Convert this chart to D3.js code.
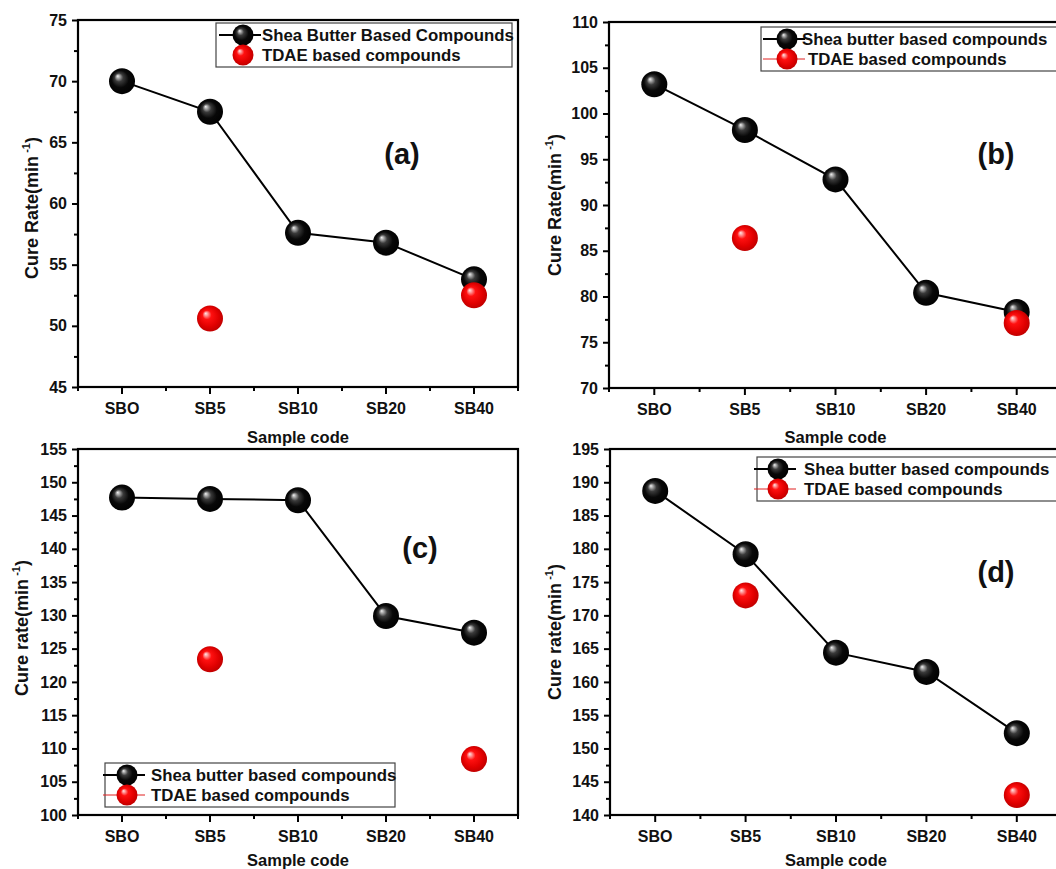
<!DOCTYPE html>
<html>
<head>
<meta charset="utf-8">
<script src="https://cdn.jsdelivr.net/npm/d3@7"></script>
<style>
  html, body { margin: 0; padding: 0; background: #fff; }
  svg { display: block; }
  text { font-family: "Liberation Sans", Arial, sans-serif; }
</style>
</head>
<body>
<svg id="chart" width="1056" height="869"></svg>
<script>
// Sample codes along the x axis
const categories = ["SBO", "SB5", "SB10", "SB20", "SB40"];

// Cure rate (min^-1) per panel; null = not measured
const sheaA = [70.0, 67.5, 57.6, 56.8, 53.8];
const tdaeA = [null, 50.6, null, null, 52.5];
const sheaB = [103.2, 98.2, 92.8, 80.4, 78.3];
const tdaeB = [null, 86.4, null, null, 77.1];
const sheaC = [147.7, 147.5, 147.3, 129.9, 127.4];
const tdaeC = [null, 123.4, null, null, 108.4];
const sheaD = [188.7, 179.2, 164.4, 161.5, 152.3];
const tdaeD = [null, 173.0, null, null, 143.0];

// Y axis ranges and tick values
const yDomainA = [45, 75],  yTicksA = [45, 50, 55, 60, 65, 70, 75];
const yDomainB = [70, 110], yTicksB = [70, 75, 80, 85, 90, 95, 100, 105, 110];
const yDomainC = [100, 155], yTicksC = [100, 105, 110, 115, 120, 125, 130, 135, 140, 145, 150, 155];
const yDomainD = [140, 195], yTicksD = [140, 145, 150, 155, 160, 165, 170, 175, 180, 185, 190, 195];

// Text
const panelLetters = ["(a)", "(b)", "(c)", "(d)"];
const yTitles = ["Cure Rate(min", "Cure Rate(min", "Cure rate(min", "Cure rate(min"];
const sheaNames = ["Shea Butter Based Compounds", "Shea butter based compounds",
                   "Shea butter based compounds", "Shea butter based compounds"];
const tdaeName = "TDAE based compounds";
const xTitle = "Sample code";

const FONT = "Liberation Sans, Arial, sans-serif";
const INK = "#111";

const svg = d3.select("#chart");
const defs = svg.append("defs");

function sphereGradient(id, stops) {
  const g = defs.append("radialGradient").attr("id", id)
    .attr("cx", "50%").attr("cy", "50%").attr("r", "55%")
    .attr("fx", "33%").attr("fy", "30%");
  stops.forEach(s => g.append("stop").attr("offset", s[0]).attr("stop-color", s[1]));
}
sphereGradient("ballBlack", [["0%", "#f2f2f2"], ["12%", "#a8a8a8"], ["30%", "#3a3a3a"], ["60%", "#080808"], ["100%", "#000"]]);
sphereGradient("ballRed", [["0%", "#ffe8e8"], ["12%", "#ff9a9a"], ["32%", "#ff1010"], ["70%", "#e00000"], ["100%", "#b80000"]]);

const R = 13;

const panels = [
  { shea: sheaA, tdae: tdaeA, dom: yDomainA, ticks: yTicksA, x0: 78, x1: 518, y0: 20, y1: 387,
    letter: [402, 164], yTitle: [38, 208], xTitleDy: 56,
    legend: { x: 216, y: 23, w: 296, h: 44, sym: 243, text: 262, tdaeLine: false } },
  { shea: sheaB, tdae: tdaeB, dom: yDomainB, ticks: yTicksB, x0: 609, x1: 1062, y0: 22, y1: 388,
    letter: [996, 164], yTitle: [561, 205], xTitleDy: 55,
    legend: { x: 761, y: 27, w: 320, h: 44, sym: 787, text: 802, tdaeLine: true, text2: 808 } },
  { shea: sheaC, tdae: tdaeC, dom: yDomainC, ticks: yTicksC, x0: 78, x1: 518, y0: 449, y1: 815,
    letter: [420, 558], yTitle: [28, 628], xTitleDy: 51,
    legend: { x: 105, y: 763, w: 290, h: 44, sym: 127, text: 151, tdaeLine: true } },
  { shea: sheaD, tdae: tdaeD, dom: yDomainD, ticks: yTicksD, x0: 610, x1: 1062, y0: 449, y1: 815,
    letter: [996, 582], yTitle: [561, 632], xTitleDy: 51,
    legend: { x: 757, y: 457, w: 320, h: 44, sym: 778, text: 804, tdaeLine: true } }
];

panels.forEach((p, i) => {
  const g = svg.append("g");
  const x = d3.scaleBand().domain(categories).range([p.x0, p.x1]).padding(0);
  const cx = c => x(c) + x.bandwidth() / 2;
  const y = d3.scaleLinear().domain(p.dom).range([p.y1, p.y0]);

  // minor y ticks (half steps)
  const minorY = p.ticks.slice(0, -1).map(v => v + 2.5);
  g.append("g").attr("transform", `translate(${p.x0},0)`)
    .call(d3.axisLeft(y).tickValues(minorY).tickSize(4).tickFormat(""))
    .call(a => a.select(".domain").remove())
    .selectAll("line").attr("stroke-width", 2);

  // major y ticks with labels
  g.append("g").attr("transform", `translate(${p.x0},0)`)
    .call(d3.axisLeft(y).tickValues(p.ticks).tickSize(6).tickPadding(5))
    .call(a => a.select(".domain").remove())
    .call(a => a.selectAll("line").attr("stroke-width", 2))
    .call(a => a.selectAll("text").attr("font-size", 16).attr("font-weight", "bold")
      .attr("font-family", FONT).attr("fill", INK));

  // x axis: major ticks at category centres, minor at band edges
  g.append("g").attr("transform", `translate(0,${p.y1})`)
    .call(d3.axisBottom(x).tickSize(7).tickPadding(9))
    .call(a => a.select(".domain").remove())
    .call(a => a.selectAll("line").attr("stroke-width", 2))
    .call(a => a.selectAll("text").attr("font-size", 16).attr("font-weight", "bold")
      .attr("font-family", FONT).attr("fill", INK));
  const edges = categories.map(c => x(c)).concat([p.x1]);
  g.append("g").selectAll("line").data(edges).join("line")
    .attr("x1", d => d).attr("x2", d => d).attr("y1", p.y1).attr("y2", p.y1 + 4)
    .attr("stroke", "#000").attr("stroke-width", 2);

  // frame
  g.append("rect").attr("x", p.x0).attr("y", p.y0)
    .attr("width", p.x1 - p.x0).attr("height", p.y1 - p.y0)
    .attr("fill", "none").attr("stroke", "#000").attr("stroke-width", 2.2);

  // axis titles
  g.append("text").attr("x", cx("SB10")).attr("y", p.y1 + p.xTitleDy)
    .attr("text-anchor", "middle").attr("font-size", 16.5).attr("font-weight", "bold")
    .attr("fill", INK).text(xTitle);
  const yt = g.append("text")
    .attr("transform", `translate(${p.yTitle[0]},${p.yTitle[1]}) rotate(-90)`)
    .attr("text-anchor", "middle").attr("font-size", 18).attr("font-weight", "bold").attr("fill", INK);
  yt.append("tspan").text(yTitles[i]);
  yt.append("tspan").attr("dy", -8).attr("font-size", 11).text(" -1");
  yt.append("tspan").attr("dy", 8).text(")");

  // panel letter
  g.append("text").attr("x", p.letter[0]).attr("y", p.letter[1]).attr("text-anchor", "middle")
    .attr("font-family", "Liberation Serif, 'Times New Roman', serif")
    .attr("font-size", 29).attr("font-weight", "bold").attr("fill", INK).text(panelLetters[i]);

  // shea butter series: line + spheres
  const shea = categories.map((c, k) => ({ c, v: p.shea[k] }));
  g.append("path").datum(shea)
    .attr("d", d3.line().x(d => cx(d.c)).y(d => y(d.v)))
    .attr("fill", "none").attr("stroke", "#000").attr("stroke-width", 2);
  g.append("g").selectAll("circle").data(shea).join("circle")
    .attr("cx", d => cx(d.c)).attr("cy", d => y(d.v)).attr("r", R)
    .attr("fill", "url(#ballBlack)");

  // TDAE series: spheres only
  const tdae = categories.map((c, k) => ({ c, v: p.tdae[k] })).filter(d => d.v != null);
  g.append("g").selectAll("circle").data(tdae).join("circle")
    .attr("cx", d => cx(d.c)).attr("cy", d => y(d.v)).attr("r", R)
    .attr("fill", "url(#ballRed)");

  // legend
  const L = p.legend;
  const lg = g.append("g");
  lg.append("rect").attr("x", L.x).attr("y", L.y).attr("width", L.w).attr("height", L.h)
    .attr("fill", "#fff").attr("stroke", "#444").attr("stroke-width", 1.2);
  const r1 = L.y + 12, r2 = L.y + 32;
  lg.append("line").attr("x1", L.sym - 24).attr("x2", L.sym + 18).attr("y1", r1).attr("y2", r1)
    .attr("stroke", "#000").attr("stroke-width", 2);
  lg.append("circle").attr("cx", L.sym).attr("cy", r1).attr("r", 10.5).attr("fill", "url(#ballBlack)");
  if (L.tdaeLine) {
    lg.append("line").attr("x1", L.sym - 24).attr("x2", L.sym + 18).attr("y1", r2).attr("y2", r2)
      .attr("stroke", "#e02020").attr("stroke-width", 1);
  }
  lg.append("circle").attr("cx", L.sym).attr("cy", r2).attr("r", 10.5).attr("fill", "url(#ballRed)");
  lg.append("text").attr("x", L.text).attr("y", r1 + 6).attr("font-size", 16.8)
    .attr("font-weight", "bold").attr("fill", INK).text(sheaNames[i]);
  lg.append("text").attr("x", L.text2 || L.text).attr("y", r2 + 6).attr("font-size", 16.8)
    .attr("font-weight", "bold").attr("fill", INK).text(tdaeName);
});
</script>
</body>
</html>
